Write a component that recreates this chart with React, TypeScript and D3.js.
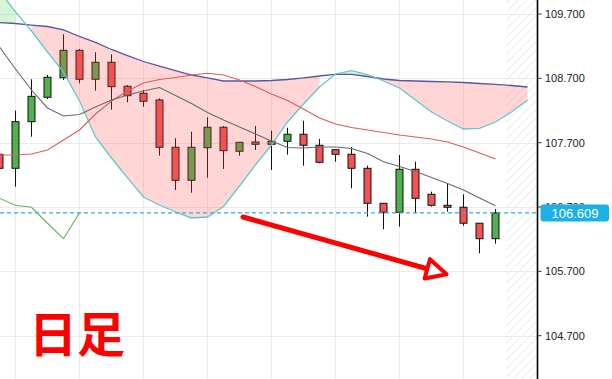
import React from 'react';
import * as d3 from 'd3';

const W = 612;
const H = 379;

// candle index of the first array element (partially visible at the left edge)
const firstIndex = -1;

const opens = [107.520, 107.302, 108.027, 108.406, 108.710, 109.136, 108.686, 108.950, 108.577, 108.468, 108.364, 107.629, 107.116, 107.622, 107.940, 107.567, 107.711, 107.675, 107.722, 107.831, 107.660, 107.591, 107.520, 107.302, 106.758, 106.618, 107.287, 106.898, 106.727, 106.696, 106.448, 106.208];
const highs = [107.540, 108.198, 108.686, 108.752, 109.385, 109.156, 109.105, 109.074, 108.597, 108.519, 108.390, 107.769, 107.871, 108.095, 107.960, 107.706, 107.960, 107.887, 107.933, 108.042, 107.758, 107.591, 107.629, 107.343, 106.758, 107.509, 107.405, 106.939, 107.069, 106.898, 106.448, 106.670];
const lows = [107.290, 107.016, 107.793, 108.379, 108.675, 108.623, 108.508, 108.213, 108.328, 108.260, 107.498, 106.965, 106.923, 107.156, 107.291, 107.498, 107.587, 107.276, 107.514, 107.343, 107.380, 107.405, 106.991, 106.550, 106.354, 106.395, 106.603, 106.706, 106.628, 106.410, 105.981, 106.130];
const closes = [107.302, 108.027, 108.421, 108.717, 109.136, 108.686, 108.950, 108.571, 108.431, 108.344, 107.629, 107.116, 107.629, 107.940, 107.576, 107.706, 107.675, 107.722, 107.831, 107.660, 107.396, 107.520, 107.302, 106.758, 106.618, 107.287, 106.836, 106.727, 106.696, 106.448, 106.208, 106.609];

// Ichimoku lines (same start index as candles)
const tenkan = [109.188, 108.846, 108.519, 108.240, 108.115, 108.138, 108.255, 108.364, 108.442, 108.504, 108.558, 108.434, 108.309, 108.170, 108.053, 107.944, 107.835, 107.727, 107.626, 107.618, 107.633, 107.633, 107.610, 107.532, 107.405, 107.330, 107.253, 107.159, 107.066, 106.965, 106.841, 106.721];
const kijun = [107.509, 107.509, 107.525, 107.587, 107.742, 107.898, 108.146, 108.348, 108.504, 108.628, 108.682, 108.714, 108.752, 108.779, 108.752, 108.675, 108.574, 108.457, 108.356, 108.224, 108.084, 107.991, 107.936, 107.898, 107.859, 107.820, 107.789, 107.758, 107.711, 107.633, 107.540, 107.447];
// leading spans extend two periods past the last candle
const spanA = [110.058, 109.732, 109.436, 109.110, 108.799, 108.348, 107.789, 107.462, 107.152, 106.856, 106.732, 106.623, 106.530, 106.545, 106.709, 107.027, 107.354, 107.664, 108.022, 108.302, 108.566, 108.768, 108.819, 108.760, 108.659, 108.550, 108.364, 108.177, 108.037, 107.913, 107.924, 108.022, 108.177, 108.364];
const spanB = [109.568, 109.553, 109.529, 109.506, 109.452, 109.351, 109.258, 109.149, 109.055, 108.962, 108.892, 108.822, 108.752, 108.709, 108.659, 108.659, 108.659, 108.667, 108.682, 108.706, 108.737, 108.763, 108.763, 108.729, 108.690, 108.667, 108.659, 108.651, 108.644, 108.636, 108.620, 108.605, 108.589, 108.566];
// lagging span, visible part (starts at firstIndex)
const lagging = [106.836, 106.727, 106.696, 106.448, 106.208, 106.609];

const priceTicks = [109.7, 108.7, 107.7, 106.7, 105.7, 104.7];
const gridIndices = [0, 4, 8, 12, 16, 20, 24, 28];
const lastPrice = 106.609;
const arrowFrom = { i: 14.22, p: 106.545 };
const arrowTo = { i: 26.34, p: 105.698 };
const title = '日足';

const axisX = 537.5;
const hatchStart = 506;

export default function App() {
  const x = d3.scaleLinear().domain([-1, 32]).range([-0.5, 527.5]);
  const y = d3.scaleLinear().domain([104.027, 109.918]).range([H, 0]);

  const pts = (arr: number[]) => arr.map((v, j) => ({ i: firstIndex + j, v }));
  const line = d3.line<{ i: number; v: number }>().x(d => x(d.i)).y(d => y(d.v));

  // cloud runs
  type Run = { start: number; end: number; up: boolean };
  const runs: Run[] = [];
  for (let j = 0; j < spanA.length - 1; j++) {
    const s0 = spanA[j] > spanB[j];
    const s1 = spanA[j + 1] > spanB[j + 1];
    if (s0 !== s1) continue;
    const last = runs[runs.length - 1];
    if (last && last.end === j && last.up === s0) last.end = j + 1;
    else runs.push({ start: j, end: j + 1, up: s0 });
  }
  const area = d3
    .area<number>()
    .x(j => x(firstIndex + j))
    .y0(j => y(spanB[j]))
    .y1(j => y(spanA[j]));

  // arrow
  const ax0 = x(arrowFrom.i), ay0 = y(arrowFrom.p);
  const ax1 = x(arrowTo.i), ay1 = y(arrowTo.p);
  const len = Math.hypot(ax1 - ax0, ay1 - ay0);
  const ux = (ax1 - ax0) / len, uy = (ay1 - ay0) / len;
  const nx = -uy, ny = ux;
  const tip = [ax1 + 10 * ux, ay1 + 10 * uy];
  const bc = [ax1 - 10 * ux, ay1 - 10 * uy];
  const c1 = [bc[0] + 10 * nx, bc[1] + 10 * ny];
  const c2 = [bc[0] - 10 * nx, bc[1] - 10 * ny];

  const fontAxis = '"Liberation Sans", Arial, sans-serif';

  return (
    <svg width={W} height={H} style={{ position: 'absolute', left: 0, top: 0, background: '#fff' }}>
      <defs>
        <pattern id="hatch" width="6" height="6" patternUnits="userSpaceOnUse" patternTransform="rotate(45)">
          <line x1="0" y1="0" x2="0" y2="6" stroke="#e6e6e6" strokeWidth="1.5" />
        </pattern>
        <clipPath id="plot">
          <rect x={0} y={0} width={axisX} height={H} />
        </clipPath>
      </defs>
      <rect x={0} y={0} width={W} height={H} fill="#fff" />
      <rect x={hatchStart} y={0} width={axisX - hatchStart} height={H} fill="url(#hatch)" />

      {/* grid */}
      <g stroke="#ebebeb" strokeWidth={1}>
        {priceTicks.map(t => (
          <line key={t} x1={0} x2={axisX} y1={Math.round(y(t)) + 0.5} y2={Math.round(y(t)) + 0.5} />
        ))}
        {gridIndices.map(g => (
          <line key={g} x1={x(g)} x2={x(g)} y1={0} y2={H} />
        ))}
      </g>

      <g clipPath="url(#plot)">
        {/* candles */}
        {opens.map((o, j) => {
          const c = closes[j];
          const cx = x(firstIndex + j);
          const up = c > o;
          const top = y(Math.max(o, c));
          const bot = y(Math.min(o, c));
          return (
            <g key={j}>
              <line x1={cx} x2={cx} y1={y(highs[j])} y2={y(lows[j])} stroke="#111" strokeWidth={1} />
              <rect
                x={cx - 3.5}
                y={top}
                width={7}
                height={Math.max(1, bot - top)}
                fill={up ? '#50b050' : '#f25252'}
                stroke="#111"
                strokeWidth={1}
              />
            </g>
          );
        })}

        {/* cloud */}
        {runs.map((r, k) => (
          <path
            key={k}
            d={area(d3.range(r.start, r.end + 1)) || ''}
            fill={r.up ? '#5ad65a' : '#ff5050'}
            fillOpacity={r.up ? 0.25 : 0.24}
          />
        ))}

        {/* lines */}
        <path d={line(pts(spanB)) || ''} fill="none" stroke="#5656a8" strokeWidth={1.3} />
        <path d={line(pts(spanA)) || ''} fill="none" stroke="#62c9c9" strokeWidth={1.3} />
        <path d={line(pts(kijun)) || ''} fill="none" stroke="#e25a5a" strokeWidth={1.1} />
        <path d={line(pts(tenkan)) || ''} fill="none" stroke="#6a6a6a" strokeWidth={1.1} />
        <path d={line(pts(lagging)) || ''} fill="none" stroke="#5cb85c" strokeWidth={1.1} />

        {/* last price line */}
        <line x1={0} x2={axisX} y1={y(lastPrice)} y2={y(lastPrice)} stroke="#3aa9d2" strokeWidth={1.2} strokeDasharray="4,3" />
      </g>

      {/* annotation arrow */}
      <line x1={ax0} y1={ay0} x2={ax1} y2={ay1} stroke="#ff0000" strokeWidth={5} strokeLinecap="round" />
      <polygon
        points={[tip, c1, c2].map(p => p.join(',')).join(' ')}
        fill="#fff"
        stroke="#ff0000"
        strokeWidth={4}
        strokeLinejoin="round"
      />

      {/* title */}
      <text x={29} y={352} fill="#f00" fontSize={48} fontWeight="bold" fontFamily='"Noto Sans CJK JP", "Noto Sans CJK SC", sans-serif'>
        {title}
      </text>

      {/* axis */}
      <line x1={axisX} x2={axisX} y1={0} y2={H} stroke="#000" strokeWidth={1.6} />
      {priceTicks.map(t => (
        <g key={t}>
          <line x1={axisX} x2={axisX + 4} y1={y(t)} y2={y(t)} stroke="#333" strokeWidth={1} />
          <text x={545} y={y(t)} dy="0.35em" fontSize={11} fill="#222" fontFamily={fontAxis}>
            {t.toFixed(3)}
          </text>
        </g>
      ))}
      <rect x={540.5} y={y(lastPrice) - 8.5} width={68.5} height={17} rx={3} fill="#1bb1e6" />
      <text x={575} y={y(lastPrice)} dy="0.36em" textAnchor="middle" fontSize={13} fill="#fff" fontFamily={fontAxis}>
        {lastPrice.toFixed(3)}
      </text>
    </svg>
  );
}
